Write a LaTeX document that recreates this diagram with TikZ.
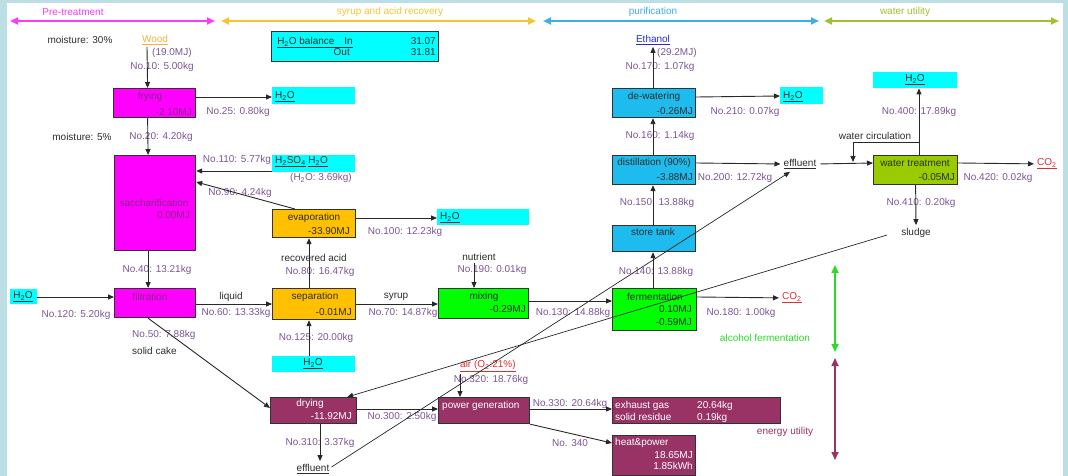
\documentclass[tikz,border=0pt]{standalone}
\usepackage{fontspec}
\setmainfont{Liberation Sans}
\usetikzlibrary{arrows.meta}
\definecolor{bgblue}{RGB}{188,223,229}
\definecolor{magc}{RGB}{255,0,255}
\definecolor{cyanc}{RGB}{0,255,255}
\definecolor{orac}{RGB}{255,192,0}
\definecolor{grnc}{RGB}{0,255,0}
\definecolor{bluc}{RGB}{30,188,238}
\definecolor{ygc}{RGB}{153,204,0}
\definecolor{marc}{RGB}{153,51,102}
\definecolor{boxline}{RGB}{50,50,50}
\definecolor{lblc}{RGB}{125,85,150}
\definecolor{arrc}{RGB}{40,40,40}
\definecolor{magtop}{RGB}{250,60,250}
\definecolor{oratop}{RGB}{246,196,50}
\definecolor{blutop}{RGB}{60,175,232}
\definecolor{ygtop}{RGB}{160,192,48}
\definecolor{woodc}{RGB}{242,180,60}
\definecolor{ethc}{RGB}{40,40,210}
\definecolor{redc}{RGB}{225,45,45}
\definecolor{alcc}{RGB}{40,220,40}
\definecolor{purtxt}{RGB}{135,40,135}
\definecolor{darktxt}{RGB}{45,45,45}
\newcommand{\htwo}{H\textsubscript{2}O}
\newcommand{\cotwo}{CO\textsubscript{2}}
\begin{document}
\begin{tikzpicture}[x=1pt,y=-1pt,
  every node/.style={inner sep=0pt, font=\fontsize{10}{12}\selectfont},
  pbox/.style={draw=boxline, line width=1.2pt, anchor=north west, inner sep=0pt},
  wbox/.style={fill=cyanc, anchor=north west, inner sep=0pt},
  lbl/.style={text=lblc},
  btx/.style={text=darktxt},
  ptx/.style={text=purtxt},
  wtx/.style={text=white},
  arr/.style={draw=arrc, line width=0.9pt, -{Triangle[length=6pt,width=5pt]}},
  thin arr/.style={draw=arrc, line width=0.7pt, -{Triangle[length=6pt,width=5pt]}},
  toparr/.style={line width=2pt, {Triangle[length=8pt,width=7pt]}-{Triangle[length=8pt,width=7pt]}}
]
\useasboundingbox (0,0) rectangle (1068,476);
\fill[bgblue] (0,0) rectangle (1068,476);
\fill[white] (7,3) rectangle (1063,476);

% ---------- top ranges ----------
\coordinate (r1a) at (10,21); \coordinate (r1b) at (215,21);
\coordinate (r2a) at (221,21); \coordinate (r2b) at (536,21);
\coordinate (r3a) at (543,21); \coordinate (r3b) at (819,21);
\coordinate (r4a) at (824,21); \coordinate (r4b) at (1059,21);
\draw[toparr, magtop] (r1a) -- (r1b);
\draw[toparr, oratop] (r2a) -- (r2b);
\draw[toparr, blutop] (r3a) -- (r3b);
\draw[toparr, ygtop] (r4a) -- (r4b);
\node[text=magtop] (t1) at (73,12) {Pre-treatment};
\node[text=oratop] (t2) at (390,12) {syrup and acid recovery};
\node[text=blutop] (t3) at (653,12) {purification};
\node[text=ygtop] (t4) at (905,12) {water utility};

% ---------- boxes ----------
\node[pbox, fill=magc, minimum width=82pt, minimum height=29pt] (fry) at (113,88) {};
\node[pbox, fill=magc, minimum width=81pt, minimum height=95pt] (sac) at (114,155) {};
\node[pbox, fill=magc, minimum width=81pt, minimum height=29pt] (fil) at (114,288) {};
\node[pbox, fill=orac, minimum width=83pt, minimum height=28pt] (evap) at (272,209) {};
\node[pbox, fill=orac, minimum width=83pt, minimum height=31pt] (sep) at (272,288) {};
\node[pbox, fill=grnc, minimum width=90pt, minimum height=30pt] (mix) at (438,288) {};
\node[pbox, fill=grnc, minimum width=84pt, minimum height=42pt] (ferm) at (612,288) {};
\node[pbox, fill=bluc, minimum width=83pt, minimum height=26pt] (store) at (612,225) {};
\node[pbox, fill=bluc, minimum width=83pt, minimum height=29pt] (dist) at (612,155) {};
\node[pbox, fill=bluc, minimum width=83pt, minimum height=29pt] (dew) at (612,88) {};
\node[pbox, fill=ygc, minimum width=84pt, minimum height=29pt] (wt) at (873,155) {};
\node[pbox, fill=marc, minimum width=86pt, minimum height=26pt] (dry) at (270,397) {};
\node[pbox, fill=marc, minimum width=91pt, minimum height=26pt] (pow) at (438,397) {};
\node[pbox, fill=marc, minimum width=168pt, minimum height=26pt] (exh) at (612,397) {};
\node[pbox, fill=marc, minimum width=83pt, minimum height=40pt] (hp) at (612,435) {};
\node[pbox, fill=cyanc, minimum width=167pt, minimum height=30pt] (bal) at (271,31) {};

\node[wbox, minimum width=83pt, minimum height=17pt] (w1) at (272,87) {};
\node[wbox, minimum width=83pt, minimum height=17pt] (w2) at (272,155) {};
\node[wbox, minimum width=92pt, minimum height=16pt] (w3) at (437,209) {};
\node[wbox, minimum width=43pt, minimum height=17pt] (w4) at (780,87) {};
\node[wbox, minimum width=84pt, minimum height=16pt] (w5) at (873,72) {};
\node[wbox, minimum width=27pt, minimum height=15pt] (w6) at (10,289) {};
\node[wbox, minimum width=83pt, minimum height=16pt] (w7) at (272,356) {};

% ---------- box texts ----------
\node[ptx] (fryt) at (150,97) {frying};
\node[ptx, anchor=mid east] (frye) at (192,113) {-2.10MJ};
\node[ptx] (sact) at (154,203) {saccharification};
\node[ptx, anchor=mid east] (sace) at (190,216) {0.00MJ};
\node[ptx] (filt) at (150,297) {filtration};
\node[btx] (evapt) at (314,218) {evaporation};
\node[btx, anchor=mid east] (evape) at (350,232) {-33.90MJ};
\node[btx] (sept) at (315,297) {separation};
\node[btx, anchor=mid east] (sepe) at (352,313) {-0.01MJ};
\node[btx] (mixt) at (484,297) {mixing};
\node[btx, anchor=mid east] (mixe) at (526,310) {-0.29MJ};
\node[btx] (fermt) at (655,297) {fermentation};
\node[btx, anchor=mid east] (ferme1) at (692,310) {0.10MJ};
\node[btx, anchor=mid east] (ferme2) at (692,323) {-0.59MJ};
\node[btx] (storet) at (653,232) {store tank};
\node[btx] (distt) at (654,163) {distillation (90\%)};
\node[btx, anchor=mid east] (diste) at (693,178) {-3.88MJ};
\node[btx] (dewt) at (654,97) {de-watering};
\node[btx, anchor=mid east] (dewe) at (693,112) {-0.26MJ};
\node[btx] (wtt) at (915,163) {water treatment};
\node[btx, anchor=mid east] (wte) at (955,178) {-0.05MJ};
\node[wtx] (dryt) at (310,404) {drying};
\node[wtx, anchor=mid east] (drye) at (352,417) {-11.92MJ};
\node[wtx, anchor=mid west] (powt) at (442,406) {power generation};
\node[wtx, anchor=mid west] (exh1) at (615,406) {exhaust gas};
\node[wtx, anchor=mid west] (exh2) at (697,406) {20.64kg};
\node[wtx, anchor=mid west] (exh3) at (615,418) {solid residue};
\node[wtx, anchor=mid west] (exh4) at (697,418) {0.19kg};
\node[wtx, anchor=mid west] (hpt) at (615,443) {heat\&power};
\node[wtx, anchor=mid east] (hpe1) at (693,456) {18.65MJ};
\node[wtx, anchor=mid east] (hpe2) at (693,467) {1.85kWh};

\node[btx, anchor=mid east] (bal1) at (353,42) {\underline{\htwo{} balance\quad In}};
\node[btx, anchor=mid east] (bal2) at (350,53) {Out};
\node[btx, anchor=mid east] (bal3) at (436,42) {31.07};
\node[btx, anchor=mid east] (bal4) at (436,53) {31.81};

\node[btx, anchor=mid west] (w1t) at (275,96) {\underline{\htwo}};
\node[btx, anchor=mid west] (w2t) at (275,161) {\underline{H\textsubscript{2}SO\textsubscript{4}}\ \underline{\htwo}};
\node[btx, anchor=mid west] (w3t) at (440,217) {\underline{\htwo}};
\node[btx, anchor=mid west] (w4t) at (783,96) {\underline{\htwo}};
\node[btx] (w5t) at (915,80) {\underline{\htwo}};
\node[btx] (w6t) at (23,297) {\underline{\htwo}};
\node[btx] (w7t) at (313,364) {\underline{\htwo}};

% ---------- free texts ----------
\node[btx] (m30) at (80,40) {moisture: 30\%};
\node[text=woodc] (wood) at (155,40) {\underline{Wood}};
\node[lbl, anchor=mid west] (woodmj) at (152,53) {(19.0MJ)};
\node[lbl] (n10) at (162,67) {No.10: 5.00kg};
\node[lbl] (n25) at (238,112) {No.25: 0.80kg};
\node[btx] (m5) at (82,137) {moisture: 5\%};
\node[lbl] (n20) at (161,137) {No.20: 4.20kg};
\node[lbl] (n110) at (237,160) {No.110: 5.77kg};
\node[lbl] (h2o369) at (321,178) {(\htwo: 3.69kg)};
\node[lbl] (n90) at (240,193) {No.90: 4.24kg};
\node[lbl] (n100) at (405,232) {No.100: 12.23kg};
\node[btx] (racid) at (314,258) {recovered acid};
\node[lbl] (n80) at (320,272) {No.80: 16.47kg};
\node[lbl] (n40) at (157,270) {No.40: 13.21kg};
\node[lbl] (n120) at (76,315) {No.120: 5.20kg};
\node[btx] (liq) at (231,297) {liquid};
\node[lbl] (n60) at (236,313) {No.60: 13.33kg};
\node[lbl] (n125) at (316,338) {No.125: 20.00kg};
\node[btx] (syr) at (396,297) {syrup};
\node[lbl] (n70) at (403,313) {No.70: 14.87kg};
\node[btx] (nut) at (479,257) {nutrient};
\node[lbl] (n190) at (492,270) {No.190: 0.01kg};
\node[lbl] (n130) at (573,313) {No.130: 14.88kg};
\node[lbl] (n180) at (741,313) {No.180: 1.00kg};
\node[text=redc, anchor=mid west] (co2a) at (782,297) {\underline{\cotwo}};
\node[text=alcc] (alc) at (765,338) {alcohol fermentation};
\node[lbl] (n140) at (656,272) {No.140: 13.88kg};
\node[lbl] (n150) at (657,203) {No.150: 13.88kg};
\node[lbl] (n200) at (735,178) {No.200: 12.72kg};
\node[btx] (eff1) at (800,164) {\underline{effluent}};
\node[lbl] (n160) at (660,136) {No.160: 1.14kg};
\node[text=ethc] (eth) at (653,40) {\underline{Ethanol}};
\node[lbl, anchor=mid west] (ethmj) at (657,53) {(29.2MJ)};
\node[lbl] (n170) at (660,67) {No.170: 1.07kg};
\node[lbl] (n210) at (745,112) {No.210: 0.07kg};
\node[lbl] (n400) at (919,112) {No.400: 17.89kg};
\node[btx] (wcirc) at (875,136) {water circulation};
\node[text=redc, anchor=mid west] (co2b) at (1037,163) {\underline{\cotwo}};
\node[lbl] (n420) at (998,178) {No.420: 0.02kg};
\node[lbl] (n410) at (921,203) {No.410: 0.20kg};
\node[btx] (sludge) at (916,233) {sludge};
\node[lbl, anchor=mid west] (n50) at (132,335) {No.50: 7.88kg};
\node[btx, anchor=mid west] (scake) at (132,352) {solid cake};
\node[lbl] (n310) at (320,443) {No.310: 3.37kg};
\node[btx] (eff2) at (313,469) {\underline{effluent}};
\node[lbl] (n300) at (402,417) {No.300: 2.50kg};
\node[text=redc, anchor=mid west] (air) at (460,365) {\underline{air (O\textsubscript{2}:21\%)}};
\node[lbl] (n320) at (491,380) {No.320: 18.76kg};
\node[lbl] (n330) at (570,404) {No.330: 20.64kg};
\node[lbl] (n340) at (570,443) {No. 340};
\node[text=marc] (eutil) at (785,432) {energy utility};

% ---------- connectors ----------
\draw[arr] ([xshift=-8pt,yshift=-2pt]wood.south) -- ([xshift=-7pt]fry.north);
\draw[arr] ([yshift=-9pt]fry.north east) -- ([yshift=-10pt]w1.north west);
\draw[arr] ([xshift=-7pt]fry.south) -- ([xshift=-7pt]sac.north);
\draw[arr] ([yshift=-16pt]w2.north west) -- ([yshift=-16pt]sac.north east);
\draw[arr] ([xshift=23pt]evap.north west) -- ([yshift=-27pt]sac.north east);
\draw[arr] ([yshift=-9pt]evap.north east) -- ([yshift=-9pt]w3.north west);
\draw[arr] ([xshift=37pt]sep.north west) -- ([xshift=37pt]evap.south west);
\draw[arr] ([xshift=-7pt]sac.south) -- ([xshift=-7pt]fil.north);
\draw[arr] ([yshift=-8pt]w6.north east) -- ([yshift=-9pt]fil.north west);
\draw[arr] ([yshift=-16pt]fil.north east) -- ([yshift=-16pt]sep.north west);
\draw[arr] ([xshift=37pt]w7.north west) -- ([xshift=37pt]sep.south west);
\draw[arr] ([yshift=-16pt]sep.north east) -- ([yshift=-16pt]mix.north west);
\draw[arr] ([xshift=-5pt,yshift=-2pt]nut.south) -- ([xshift=36pt]mix.north west);
\draw[arr] ([yshift=-13pt]mix.north east) -- ([yshift=-13pt]ferm.north west);
\draw[arr, shorten >=3pt] ([yshift=-9pt]ferm.north east) -- (co2a.west);
\draw[arr] ([xshift=41pt]ferm.north west) -- ([xshift=41pt]store.south west);
\draw[arr] ([xshift=41pt]store.north west) -- ([xshift=41pt]dist.south west);
\draw[arr] ([xshift=41pt]dist.north west) -- ([xshift=41pt]dew.south west);
\draw[arr] ([xshift=41pt]dew.north west) -- ([yshift=-2pt]eth.south);
\draw[arr] ([yshift=-9pt]dew.north east) -- ([yshift=-9pt]w4.north west);
\draw[arr, shorten >=3pt] ([yshift=-8pt]dist.north east) -- (eff1.west);
\draw[arr, shorten <=4pt] (eff1.east) -- ([yshift=-8pt]wt.north west);
\draw[arr] ([xshift=46pt]wt.north west) -- ([xshift=46pt]w5.south west);
\coordinate (wcend) at (853,162);
\draw[arr] ([xshift=46pt,yshift=13pt]wt.north west) -| (wcend);
\draw[arr, shorten >=3pt] ([yshift=-8pt]wt.north east) -- (co2b.west);
\draw[arr] (wt.south) -- ([yshift=3pt]sludge.north);
\draw[arr] ([xshift=-7pt]fil.south) -- ([yshift=-11pt]dry.north west);
\draw[arr] ([xshift=50pt]dry.south west) -- ([xshift=7pt,yshift=3pt]eff2.north);
\draw[arr] ([yshift=-12pt]dry.north east) -- ([yshift=-12pt]pow.north west);
\draw[arr] ([yshift=-2pt]air.south west) -- (air.south west |- pow.north);
\draw[arr] ([yshift=-12pt]pow.north east) -- ([yshift=-12pt]exh.north west);
\draw[arr] (pow.south east) -- ([yshift=-8pt]hp.north west);
\draw[thin arr] ([xshift=2pt,yshift=2pt]eff2.east) -- ([xshift=-10pt,yshift=-3pt]eff1.south);
\draw[thin arr] ([xshift=-14pt,yshift=-2pt]sludge.west) -- ([xshift=-10pt]dry.north east);

% ---------- side ranges ----------
\coordinate (g1) at (835,265); \coordinate (g2) at (835,352);
\coordinate (p1) at (835,358); \coordinate (p2) at (835,460);
\draw[line width=1.6pt, alcc, {Triangle[length=8pt,width=7pt]}-{Triangle[length=8pt,width=7pt]}] (g1) -- (g2);
\draw[line width=1.6pt, marc, {Triangle[length=8pt,width=7pt]}-{Triangle[length=8pt,width=7pt]}] (p1) -- (p2);
\end{tikzpicture}
\end{document}
